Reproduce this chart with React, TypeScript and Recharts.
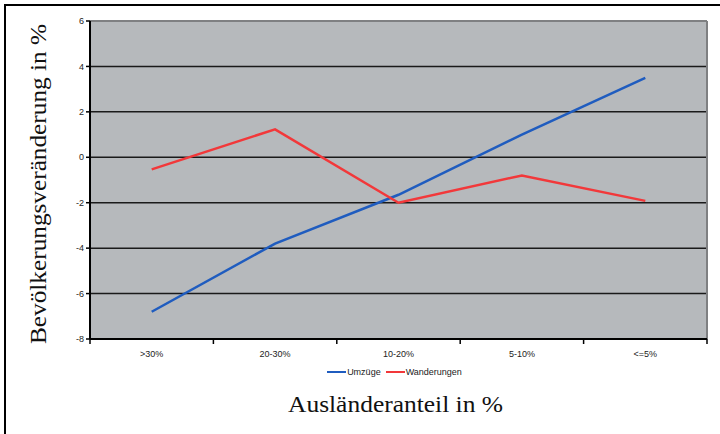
import { LineChart, Line, XAxis, YAxis, CartesianGrid, Legend, ReferenceLine } from 'recharts';

const categories = ['>30%', '20-30%', '10-20%', '5-10%', '<=5%'];
const umzuege = [-6.8, -3.8, -1.65, 1.0, 3.5];
const wanderungen = [-0.53, 1.23, -2.0, -0.8, -1.92];
const yTicks = [-8, -6, -4, -2, 0, 2, 4, 6];

const data = categories.map((name, i) => ({ idx: i, name, umzuege: umzuege[i], wanderungen: wanderungen[i] }));
// tick lines between categories, labels at category centres
const xTicks = categories.flatMap((_, i) => [i - 0.5, i]).concat(categories.length - 0.5);

const tickFont = { fontFamily: 'Liberation Sans, Arial, sans-serif', fontSize: 9, fill: '#222' };
const titleFont = 'Liberation Serif, serif';

const XTick = ({ x, y, payload }: any) => {
    const v = payload.value;
    if (Number.isInteger(v)) {
        return <text x={x} y={y} dy={13} textAnchor="middle" {...tickFont}>{categories[v]}</text>;
    }
    return <line x1={x} x2={x} y1={y - 5} y2={y} stroke="#000" strokeWidth={1.5} />;
};

const LegendBox = ({ payload }: any) => (
    <div style={{ display: 'flex', justifyContent: 'center', alignItems: 'center', fontFamily: 'Liberation Sans, Arial, sans-serif', fontSize: 9, color: '#222' }}>
        {(payload || []).map((p: any) => (
            <div key={p.value} style={{ display: 'flex', alignItems: 'center', marginRight: 5 }}>
                <span style={{ display: 'inline-block', width: 19, height: 2.5, background: p.color, marginRight: 1 }} />
                <span>{p.value}</span>
            </div>
        ))}
    </div>
);

const App = () => {
    return <div style={{ position: 'absolute', left: 0, top: 0, width: 720, height: 434, overflow: 'hidden', background: '#fff' }}>
        <div style={{ position: 'absolute', left: 4, top: 4, width: 800, height: 600, border: '2px solid #000' }} />
        <div style={{ position: 'absolute', left: 0, top: 0 }}>
            <LineChart
                width={720}
                height={434}
                data={data}
                margin={{ top: 21, right: 13, left: 0, bottom: 75 }}
            >
                <CartesianGrid vertical={false} stroke="#1a1a1a" strokeWidth={1.5} fill="#B6B9BC" fillOpacity={1} />
                <XAxis
                    dataKey="idx"
                    type="number"
                    domain={[-0.5, 4.5]}
                    ticks={xTicks}
                    interval={0}
                    height={20}
                    tickSize={5}
                    tickMargin={0}
                    tickLine={false}
                    axisLine={{ stroke: '#000', strokeWidth: 2 }}
                    tick={XTick}
                    label={{
                        content: ({ viewBox }: any) => (
                            <text x={viewBox.x + viewBox.width / 2 - 3} y={412} textAnchor="middle" fontFamily={titleFont} fontSize={24} fill="#111" textLength={215} lengthAdjust="spacingAndGlyphs">
                                Ausländeranteil in %
                            </text>
                        )
                    }}
                />
                <YAxis
                    type="number"
                    domain={[-8, 6]}
                    ticks={yTicks}
                    interval={0}
                    width={90}
                    tickSize={4}
                    tickMargin={2}
                    tick={tickFont}
                    tickLine={{ stroke: '#000', strokeWidth: 1.5 }}
                    axisLine={{ stroke: '#000', strokeWidth: 2 }}
                    label={{
                        content: ({ viewBox }: any) => (
                            <text x={0} y={0} transform={`translate(46, ${viewBox.y + viewBox.height / 2 + 4}) rotate(-90)`} textAnchor="middle" fontFamily={titleFont} fontSize={24} fill="#111" textLength={320} lengthAdjust="spacingAndGlyphs">
                                Bevölkerungsveränderung in %
                            </text>
                        )
                    }}
                />
                <ReferenceLine y={6} stroke="#7f8082" strokeWidth={2} />
                <ReferenceLine x={4.5} stroke="#7f8082" strokeWidth={2} />
                <Legend
                    verticalAlign="middle"
                    align="center"
                    layout="horizontal"
                    wrapperStyle={{ top: 367, left: 77, width: 640 }}
                    content={LegendBox}
                />
                <Line type="linear" dataKey="umzuege" name="Umzüge" stroke="#1F5CBF" strokeWidth={2.5} dot={false} isAnimationActive={false} />
                <Line type="linear" dataKey="wanderungen" name="Wanderungen" stroke="#F2383A" strokeWidth={2.5} dot={false} isAnimationActive={false} />
            </LineChart>
        </div>
    </div>
}
export default App
